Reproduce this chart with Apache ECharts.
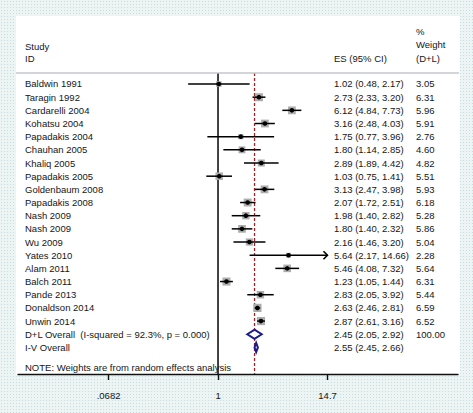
<!DOCTYPE html>
<html><head><meta charset="utf-8">
<script src="https://cdn.jsdelivr.net/npm/echarts@6/dist/echarts.min.js"></script>
<style>
html,body{margin:0;padding:0;}
body{width:473px;height:413px;overflow:hidden;background-color:#edf4f4;background-image:radial-gradient(circle,#c9dde0 0.9px,transparent 1px);background-size:3px 3px;}
#panel{position:absolute;left:16px;top:16px;width:444px;height:359px;background:#fff;}
#c{position:absolute;left:0;top:0;width:473px;height:413px;}
</style></head><body><div id="panel"></div><div id="c"></div>
<script>
var studies = ['Baldwin 1991','Taragin 1992','Cardarelli 2004','Kohatsu 2004','Papadakis 2004','Chauhan 2005','Khaliq 2005','Papadakis 2005','Goldenbaum 2008','Papadakis 2008','Nash 2009','Nash 2009','Wu 2009','Yates 2010','Alam 2011','Balch 2011','Pande 2013','Donaldson 2014','Unwin 2014'];
var es = [1.02,2.73,6.12,3.16,1.75,1.80,2.89,1.03,3.13,2.07,1.98,1.80,2.16,5.64,5.46,1.23,2.83,2.63,2.87];
var lo = [0.48,2.33,4.84,2.48,0.77,1.14,1.89,0.75,2.47,1.72,1.40,1.40,1.46,2.17,4.08,1.05,2.05,2.46,2.61];
var hi = [2.17,3.20,7.73,4.03,3.96,2.85,4.42,1.41,3.98,2.51,2.82,2.32,3.20,14.66,7.32,1.44,3.92,2.81,3.16];
var weight = [3.05,6.31,5.96,5.91,2.76,4.60,4.82,5.51,5.93,6.18,5.28,5.86,5.04,2.28,5.64,6.31,5.44,6.59,6.52];
var overallLabels = ['D+L Overall  (I-squared = 92.3%, p = 0.000)','I-V Overall'];
var overallES = [2.45,2.55];
var overallLo = [2.05,2.45];
var overallHi = [2.92,2.66];
var overallWeight = ['100.00',''];
var xTicks = [0.0682,1,14.7];
var xTickLabels = ['.0682','1','14.7'];
var headerTexts = ['Study','ID','ES (95% CI)','%','Weight','(D+L)'];
var noteText = 'NOTE: Weights are from random effects analysis';

var FONT = '9.5px "Liberation Sans", Arial, sans-serif';
var TXT = '#161616';
var COL_STUDY = 25, COL_ES = 334, COL_W = 416;
var xMin = 0.00739, xMax = 360.7;
var nStudies = studies.length;
function fmt(v){return v.toFixed(2);}
function txt(s,x,y){return {type:'text',style:{text:s,x:x,y:y,font:FONT,fill:TXT,verticalAlign:'middle',align:'left'}};}

var chart = echarts.init(document.getElementById('c'), null, {renderer:'svg', width:473, height:413});

var studyData = studies.map(function(s,i){return [i, es[i], lo[i], hi[i], weight[i]];});
var overallData = overallLabels.map(function(s,j){return [nStudies + j, overallES[j], overallLo[j], overallHi[j]];});

option = {
  animation:false,
  backgroundColor:'transparent',
  grid:{left:18, right:15, top:18.15, bottom:39},
  xAxis:{type:'log', logBase:10, min:xMin, max:xMax, position:'bottom',
    axisLine:{show:true, onZero:false, lineStyle:{color:'#111', width:1.4}},
    axisTick:{show:true, customValues:xTicks, length:6, lineStyle:{color:'#111', width:1.4}},
    axisLabel:{show:true, customValues:xTicks, margin:16, fontSize:9.5, fontFamily:'"Liberation Sans", Arial', color:TXT,
      formatter:function(v){var b=0,d=1e9;xTicks.forEach(function(t,k){var dd=Math.abs(Math.log(v)-Math.log(t));if(dd<d){d=dd;b=k;}});return xTickLabels[b];}},
    splitLine:{show:false}, minorTick:{show:false}},
  yAxis:{type:'value', inverse:true, min:-5, max:22.02, show:false},
  series:[
    {type:'custom', name:'ref', clip:false, z:1, data:[[1, overallES[0]]],
     renderItem:function(p,api){
       var top=api.coord([1,-0.84])[1], bot=api.coord([1,22.02])[1];
       var x1=api.coord([api.value(0),0])[0], x2=api.coord([api.value(1),0])[0];
       return {type:'group',children:[
         {type:'line',shape:{x1:x1,y1:top,x2:x1,y2:bot},style:{stroke:'#222',lineWidth:1.7}},
         {type:'line',shape:{x1:x2,y1:top,x2:x2,y2:bot},style:{stroke:'#9e1f24',lineWidth:1.3,lineDash:[3,2]}}
       ]};
     }},
    {type:'custom', name:'studies', clip:false, z:3, data:studyData,
     renderItem:function(p,api){
       var i=api.value(0), e=api.value(1), l=api.value(2), h=api.value(3), w=api.value(4);
       var pe=api.coord([e,i]), pl=api.coord([l,i]), ph=api.coord([h,i]);
       var y=pe[1];
       var side=3.2*Math.sqrt(w);
       var ch=[
         {type:'rect',shape:{x:pe[0]-side/2,y:y-side/2,width:side,height:side},style:{fill:'#adadad'}},
         {type:'line',shape:{x1:pl[0],y1:y,x2:ph[0],y2:y},style:{stroke:'#000',lineWidth:1.5}},
         {type:'circle',shape:{cx:pe[0],cy:y,r:2.3},style:{fill:'#000'}},
         txt(studies[i],COL_STUDY,y),
         txt(fmt(e)+' ('+fmt(l)+', '+fmt(h)+')',COL_ES,y),
         txt(fmt(w),COL_W,y)
       ];
       if(h>10){
         ch.push({type:'polyline',shape:{points:[[ph[0]-4,y-4],[ph[0],y],[ph[0]-4,y+4]]},style:{stroke:'#000',lineWidth:1.6,fill:null}});
       }
       return {type:'group',children:ch};
     }},
    {type:'custom', name:'overall', clip:false, z:3, data:overallData,
     renderItem:function(p,api){
       var r=api.value(0), j=r-nStudies, e=api.value(1), l=api.value(2), h=api.value(3);
       var pe=api.coord([e,r]), pl=api.coord([l,r]), ph=api.coord([h,r]);
       var y=pe[1], dh=4.6;
       var ch=[
         {type:'polygon',shape:{points:[[pl[0],y],[pe[0],y-dh],[ph[0],y],[pe[0],y+dh]]},style:{stroke:'#1b1b8c',lineWidth:2,fill:'#fff'}},
         txt(overallLabels[j],COL_STUDY,y),
         txt(fmt(e)+' ('+fmt(l)+', '+fmt(h)+')',COL_ES,y),
         txt(overallWeight[j],COL_W,y)
       ];
       return {type:'group',children:ch};
     }}
  ],
  graphic:[
    {type:'line',shape:{x1:16,y1:73,x2:459,y2:73},style:{stroke:'#c5c9cd',lineWidth:1.5},z:5},
    {type:'text',x:COL_STUDY,y:46,style:{text:headerTexts[0],font:FONT,fill:TXT,verticalAlign:'middle'}},
    {type:'text',x:COL_STUDY,y:58,style:{text:headerTexts[1],font:FONT,fill:TXT,verticalAlign:'middle'}},
    {type:'text',x:COL_ES,y:58,style:{text:headerTexts[2],font:FONT,fill:TXT,verticalAlign:'middle'}},
    {type:'text',x:COL_W,y:31,style:{text:headerTexts[3],font:FONT,fill:TXT,verticalAlign:'middle'}},
    {type:'text',x:COL_W,y:44,style:{text:headerTexts[4],font:FONT,fill:TXT,verticalAlign:'middle'}},
    {type:'text',x:COL_W,y:58,style:{text:headerTexts[5],font:FONT,fill:TXT,verticalAlign:'middle'}},
    {type:'text',x:COL_STUDY,y:367,style:{text:noteText,font:FONT,fill:TXT,verticalAlign:'middle'}}
  ]
};
chart.setOption(option);
</script></body></html>
